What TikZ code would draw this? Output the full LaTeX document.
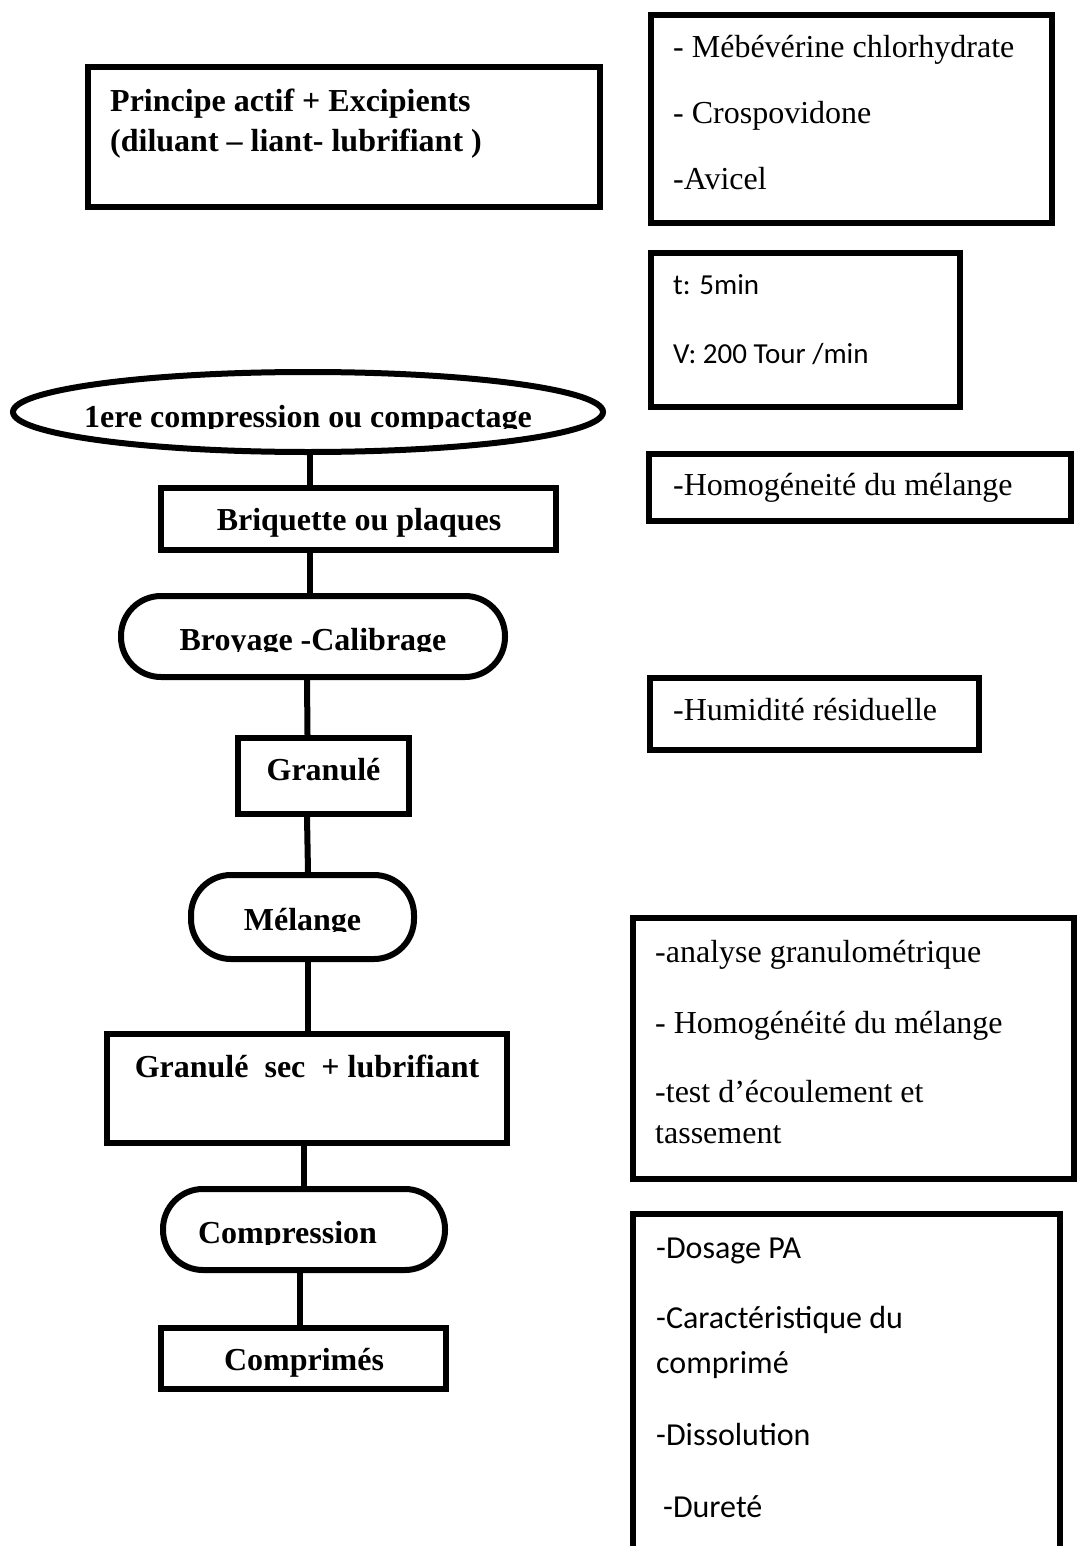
\documentclass[tikz,border=0pt]{standalone}
\usepackage{fontspec}
\setmainfont{Liberation Serif}
\newfontfamily\calib{Carlito}
\usetikzlibrary{shapes.geometric}
\begin{document}
\begin{tikzpicture}[x=1pt,y=-1pt,
  box/.style={draw, line width=6pt, rectangle, inner sep=0pt},
  pill/.style={draw, line width=6pt, rectangle, rounded corners=40pt, inner sep=0pt},
  oval/.style={draw, line width=6pt, ellipse, inner sep=0pt},
  link/.style={draw, line width=6pt},
  bt/.style={font=\fontsize{32}{38}\selectfont\bfseries, inner sep=0pt, anchor=base},
  rt/.style={font=\fontsize{32}{38}\selectfont, inner sep=0pt, anchor=base west},
  stl/.style={font=\calib\fontsize{29}{35}\selectfont, inner sep=0pt, anchor=base west},
  stb/.style={font=\calib\fontsize{32}{38}\selectfont, inner sep=0pt, anchor=base west}]
\useasboundingbox (0,0) rectangle (1077,1546);
\clip (0,0) rectangle (1077,1546);

% ---------- top-left box
\node[box, minimum width=512pt, minimum height=140pt] (princ) at (344,137) {};
\node[bt, anchor=base west] (tprinc1) at (110,112) {Principe actif + Excipients};
\node[bt, anchor=base west] (tprinc2) at (110,152) {(diluant – liant- lubrifiant )};

% ---------- top-right boxes
\node[box, minimum width=401pt, minimum height=208pt] (ingr) at (851.5,119) {};
\node[rt] (ti1) at (673,58) {- Mébévérine chlorhydrate};
\node[rt] (ti2) at (673,124) {- Crospovidone};
\node[rt] (ti3) at (673,190) {-Avicel};

\node[box, minimum width=309pt, minimum height=154pt] (param) at (805.5,330) {};
\node[stl] (tp1) at (673,294) {t: 5min};
\node[stl] (tp2) at (673,363) {V: 200 Tour /min};

% ---------- left column
\node[oval, minimum width=590pt, minimum height=80pt] (comp1) at (308,412) {};
\begin{scope}
  \clip (0,0) rectangle (1077,428.5);
  \node[bt] (tcomp1) at (308,427) {1ere compression ou compactage};
\end{scope}

\node[box, minimum width=395pt, minimum height=62pt] (briq) at (358.5,519) {};
\node[bt] (tbriq) at (359,530) {Briquette ou plaques};

\node[pill, minimum width=384pt, minimum height=81pt] (broy) at (313,636.5) {};
\begin{scope}
  \clip (0,0) rectangle (1077,651.5);
  \node[bt] (tbroy) at (313,650) {Broyage -Calibrage};
\end{scope}

\node[box, minimum width=171pt, minimum height=76pt] (gran) at (323.5,776) {};
\node[bt] (tgran) at (323.5,780) {Granulé};

\node[pill, minimum width=223pt, minimum height=84pt] (mel) at (302.5,917) {};
\begin{scope}
  \clip (0,0) rectangle (1077,931.5);
  \node[bt] (tmel) at (302.5,930) {Mélange};
\end{scope}

\node[box, minimum width=400pt, minimum height=109pt] (gsec) at (307,1088.5) {};
\node[bt] (tgsec) at (307,1077) {Granulé\ \ sec\ \ + lubrifiant};

\node[pill, minimum width=282pt, minimum height=81pt] (compr) at (304,1229.5) {};
\begin{scope}
  \clip (0,0) rectangle (1077,1244.5);
  \node[bt] (tcompr) at (287.5,1243) {Compression};
\end{scope}

\node[box, minimum width=285pt, minimum height=61pt] (cprm) at (303.5,1358.5) {};
\node[bt] (tcprm) at (304,1370) {Comprimés};

% connectors
\draw[link] ([xshift=2pt]comp1.south) -- ([xshift=2pt]comp1.south |- briq.north);
\draw[link] ([xshift=2pt]briq.south -| comp1.south) -- ([xshift=2pt]broy.north -| comp1.south);
\draw[link] ([xshift=-6pt]broy.south) -- ([xshift=-16pt]gran.north);
\draw[link] ([xshift=-16.5pt]gran.south) -- ([xshift=5.5pt]mel.north);
\draw[link] ([xshift=5.5pt]mel.south) -- ([xshift=1pt]gsec.north);
\draw[link] ([xshift=-3pt]gsec.south) -- (compr.north);
\draw[link] ([xshift=-4pt,yshift=5pt]compr.south) -- ([xshift=-3.5pt]cprm.north);

% ---------- right column
\node[box, minimum width=422pt, minimum height=67pt] (hom) at (860,487.5) {};
\node[rt] (thom) at (673,495) {-Homogéneité du mélange};

\node[box, minimum width=329pt, minimum height=72pt] (hum) at (814.5,714) {};
\node[rt] (thum) at (673,720) {-Humidité résiduelle};

\node[box, minimum width=441pt, minimum height=261pt] (ana) at (853.5,1048.5) {};
\node[rt] (ta1) at (655,962) {-analyse granulométrique};
\node[rt] (ta2) at (655,1033) {- Homogénéité du mélange};
\node[rt] (ta3) at (655,1102) {-test d’écoulement et};
\node[rt] (ta4) at (655,1143) {tassement};

\node[box, minimum width=427pt, minimum height=356pt] (ctrl) at (846.5,1392) {};
\node[stb] (tc1) at (656,1258) {-Dosage PA};
\node[stb] (tc2) at (656,1328) {-Caractéristique du};
\node[stb] (tc3) at (656,1373) {comprimé};
\node[stb] (tc4) at (656,1445) {-Dissolution};
\node[stb] (tc5) at (663,1517) {-Dureté};
\end{tikzpicture}
\end{document}
